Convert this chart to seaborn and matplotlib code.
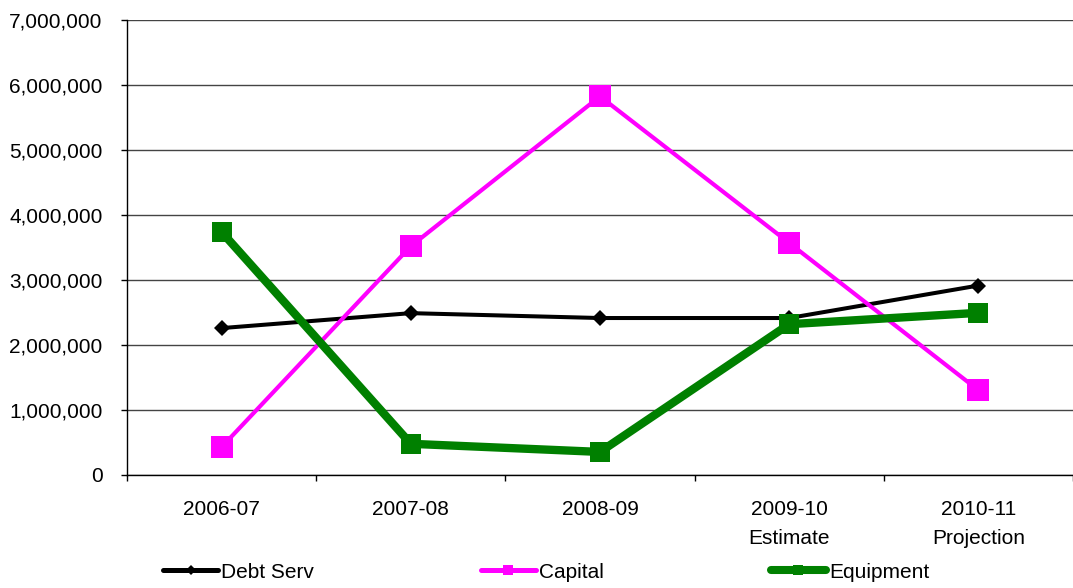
import matplotlib
matplotlib.use("Agg")
import matplotlib.pyplot as plt
from matplotlib.lines import Line2D
import seaborn as sns
import pandas as pd
from matplotlib.ticker import FuncFormatter, FixedLocator

years = ["2006-07", "2007-08", "2008-09", "2009-10", "2010-11"]
year_labels = ["2006-07", "2007-08", "2008-09", "2009-10\nEstimate", "2010-11\nProjection"]
debt_serv = [2260000, 2490000, 2415000, 2415000, 2915000]
capital = [430000, 3520000, 5825000, 3570000, 1305000]
equipment = [3740000, 480000, 355000, 2320000, 2495000]

sns.set_theme(style="white")
plt.rcParams["font.family"] = ["Liberation Sans", "DejaVu Sans"]
plt.rcParams["text.color"] = "black"
plt.rcParams["xtick.color"] = "black"
plt.rcParams["ytick.color"] = "black"
plt.rcParams["xtick.labelcolor"] = "black"
plt.rcParams["ytick.labelcolor"] = "black"

FS = 15

fig = plt.figure(figsize=(10.73, 5.88), dpi=100)
ax = fig.add_axes([127 / 1073, 1 - 475 / 588, (1073 - 127) / 1073, (475 - 20) / 588])

# name, values, colour, line width, marker, plot marker size, legend marker size, legend line width
series = [
    ("Debt Serv", debt_serv, "#000000", 2.9, "D", 8, 5.5, 3.6),
    ("Capital", capital, "#FF00FF", 3.0, "s", 16, 7.5, 3.6),
    ("Equipment", equipment, "#008000", 6.0, "s", 15, 7.5, 5.8),
]

legend_handles = []
for name, vals, color, lw, mk, ms, lms, llw in series:
    df = pd.DataFrame({"year": years, "value": vals})
    sns.lineplot(data=df, x="year", y="value", ax=ax, color=color, linewidth=lw,
                 marker=mk, markersize=ms, markeredgewidth=0, sort=False, legend=False)
    legend_handles.append(Line2D([], [], color=color, linewidth=llw, marker=mk,
                                 markersize=lms, markeredgewidth=0,
                                 solid_capstyle="round", label=name))

ax.set_ylim(0, 7000000)
ax.set_xlim(-0.5, 4.48)
ax.yaxis.set_major_locator(FixedLocator(range(0, 7000001, 1000000)))
ax.yaxis.set_major_formatter(FuncFormatter(lambda v, p: f"{int(v):,}"))
ax.yaxis.grid(True, color="#444444", linewidth=1.0)
ax.set_axisbelow(True)

# category boundaries as tick marks, labels centred between them
ax.set_xticks([i - 0.5 for i in range(6)])
ax.set_xticklabels([""] * 6)
ax.set_xticks(range(5), minor=True)
ax.set_xticklabels(year_labels, minor=True)
ax.tick_params(axis="x", which="major", direction="out", length=4.5, width=1, color="black", bottom=True)
ax.tick_params(axis="x", which="minor", length=0, pad=18, labelsize=FS, labelcolor="black")
ax.tick_params(axis="y", direction="out", length=4.5, width=1, color="black", left=True,
               labelsize=FS, pad=13, labelcolor="black")
for lab in ax.get_xticklabels(minor=True):
    lab.set_linespacing(1.65)
    lab.set_verticalalignment("top")

ax.set_xlabel("")
ax.set_ylabel("")
for side in ["top", "right"]:
    ax.spines[side].set_visible(False)
for side in ["left", "bottom"]:
    ax.spines[side].set_color("black")
    ax.spines[side].set_linewidth(1)

fig.legend(handles=legend_handles, loc="center", bbox_to_anchor=(0.509, 1 - 572 / 588), ncol=3,
           frameon=False, fontsize=FS, handlelength=2.65, handletextpad=0.15,
           columnspacing=8.0, borderpad=0, labelcolor="black")

fig.savefig("out.png", dpi=100)
